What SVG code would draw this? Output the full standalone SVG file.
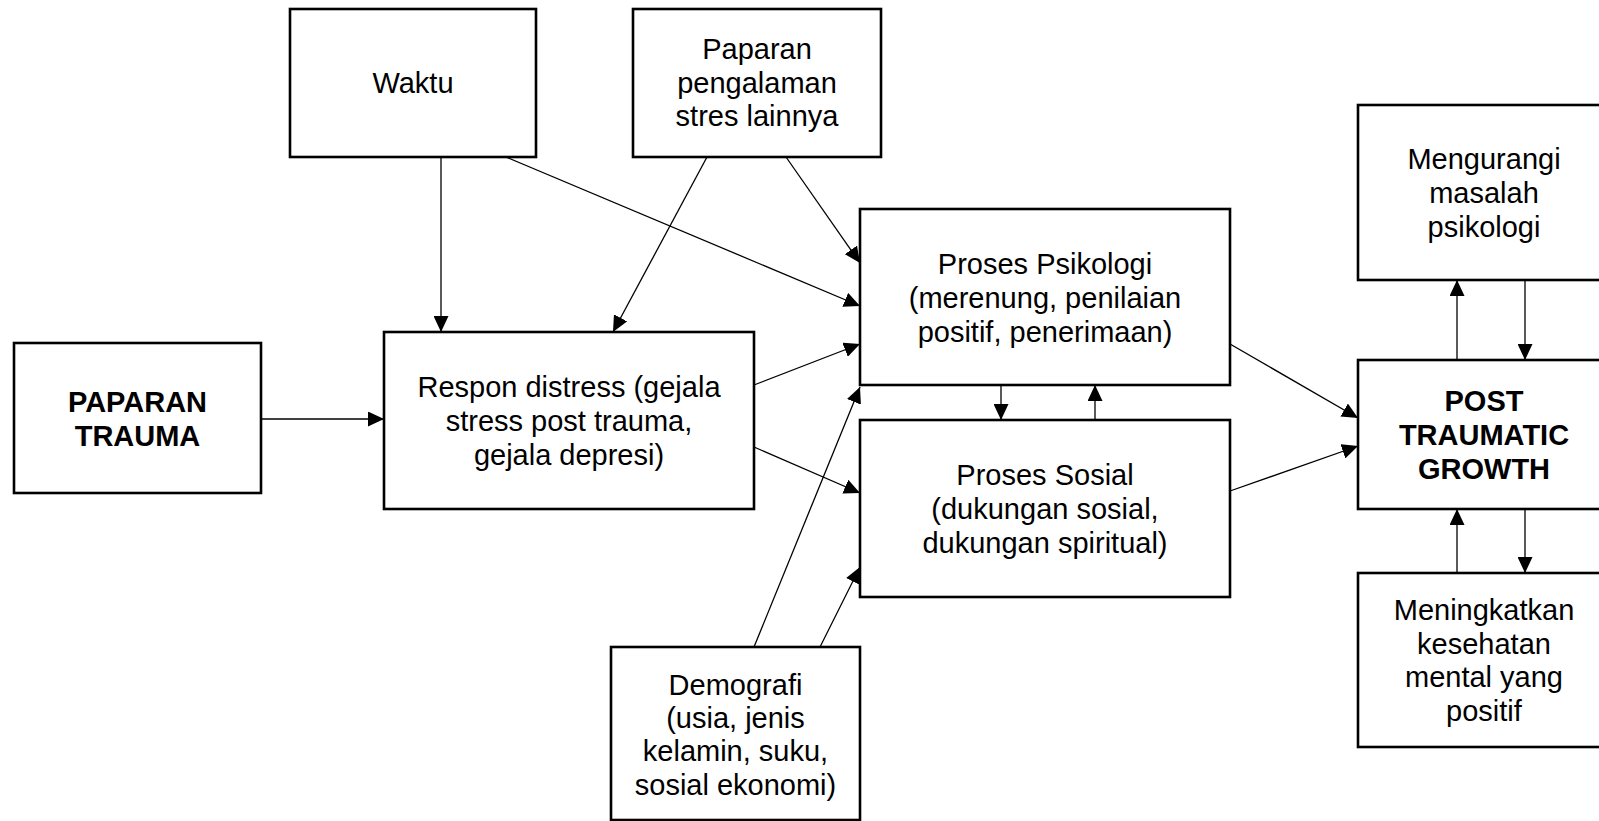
<svg xmlns="http://www.w3.org/2000/svg" width="1599" height="821" viewBox="0 0 1599 821">
<style>
.box{fill:#fff;stroke:#000;stroke-width:2.6}
.t{font-family:"Liberation Sans",Arial,sans-serif;font-size:29px;fill:#000;text-anchor:middle}
.b{font-weight:bold}
.c line{stroke:#000;stroke-width:1.3;fill:none}
</style>
<defs>
<marker id="ah" markerUnits="userSpaceOnUse" markerWidth="16" markerHeight="15" refX="16" refY="7.5" orient="auto">
<path d="M0,0 L16,7.5 L0,15 z" fill="#000"/>
</marker>
</defs>
<rect width="1599" height="821" fill="#fff"/>
<g class="c" id="connectors">
<line x1="261" y1="419" x2="384" y2="419" marker-end="url(#ah)"/>
<line x1="441" y1="157" x2="441" y2="332" marker-end="url(#ah)"/>
<line x1="506" y1="157" x2="860" y2="306" marker-end="url(#ah)"/>
<line x1="707" y1="157" x2="613" y2="332" marker-end="url(#ah)"/>
<line x1="786" y1="157" x2="860" y2="263" marker-end="url(#ah)"/>
<line x1="754" y1="385" x2="860" y2="344" marker-end="url(#ah)"/>
<line x1="754" y1="447" x2="860" y2="493" marker-end="url(#ah)"/>
<line x1="1001" y1="385" x2="1001" y2="420" marker-end="url(#ah)"/>
<line x1="1095" y1="420" x2="1095" y2="385" marker-end="url(#ah)"/>
<line x1="754" y1="647" x2="860" y2="387" marker-end="url(#ah)"/>
<line x1="820" y1="647" x2="860" y2="567" marker-end="url(#ah)"/>
<line x1="1230" y1="344" x2="1358" y2="418" marker-end="url(#ah)"/>
<line x1="1230" y1="491" x2="1358" y2="446" marker-end="url(#ah)"/>
<line x1="1457" y1="360" x2="1457" y2="280" marker-end="url(#ah)"/>
<line x1="1525" y1="280" x2="1525" y2="360" marker-end="url(#ah)"/>
<line x1="1457" y1="573" x2="1457" y2="509" marker-end="url(#ah)"/>
<line x1="1525" y1="509" x2="1525" y2="573" marker-end="url(#ah)"/>
</g>
<g id="waktu">
<rect class="box" x="290" y="9" width="246" height="148"/>
<text class="t" x="413" y="93">Waktu</text>
</g>
<g id="paparan-stres">
<rect class="box" x="633" y="9" width="248" height="148"/>
<text class="t" x="757" y="59">Paparan</text>
<text class="t" x="757" y="93">pengalaman</text>
<text class="t" x="757" y="126">stres lainnya</text>
</g>
<g id="paparan-trauma">
<rect class="box" x="14" y="343" width="247" height="150"/>
<text class="t b" x="137.5" y="412">PAPARAN</text>
<text class="t b" x="137.5" y="446">TRAUMA</text>
</g>
<g id="respon">
<rect class="box" x="384" y="332" width="370" height="177"/>
<text class="t" x="569" y="397">Respon distress (gejala</text>
<text class="t" x="569" y="431">stress post trauma,</text>
<text class="t" x="569" y="465">gejala depresi)</text>
</g>
<g id="psikologi">
<rect class="box" x="860" y="209" width="370" height="176"/>
<text class="t" x="1045" y="274">Proses Psikologi</text>
<text class="t" x="1045" y="308">(merenung, penilaian</text>
<text class="t" x="1045" y="342">positif, penerimaan)</text>
</g>
<g id="sosial">
<rect class="box" x="860" y="420" width="370" height="177"/>
<text class="t" x="1045" y="485">Proses Sosial</text>
<text class="t" x="1045" y="519">(dukungan sosial,</text>
<text class="t" x="1045" y="553">dukungan spiritual)</text>
</g>
<g id="demografi">
<rect class="box" x="611" y="647" width="249" height="173"/>
<text class="t" x="735.5" y="695">Demografi</text>
<text class="t" x="735.5" y="728">(usia, jenis</text>
<text class="t" x="735.5" y="761">kelamin, suku,</text>
<text class="t" x="735.5" y="795">sosial ekonomi)</text>
</g>
<g id="mengurangi">
<rect class="box" x="1358" y="105" width="252" height="175"/>
<text class="t" x="1484" y="169">Mengurangi</text>
<text class="t" x="1484" y="203">masalah</text>
<text class="t" x="1484" y="237">psikologi</text>
</g>
<g id="ptg">
<rect class="box" x="1358" y="360" width="252" height="149"/>
<text class="t b" x="1484" y="411">POST</text>
<text class="t b" x="1484" y="445">TRAUMATIC</text>
<text class="t b" x="1484" y="479">GROWTH</text>
</g>
<g id="meningkatkan">
<rect class="box" x="1358" y="573" width="252" height="174"/>
<text class="t" x="1484" y="620">Meningkatkan</text>
<text class="t" x="1484" y="654">kesehatan</text>
<text class="t" x="1484" y="687">mental yang</text>
<text class="t" x="1484" y="721">positif</text>
</g>
</svg>
